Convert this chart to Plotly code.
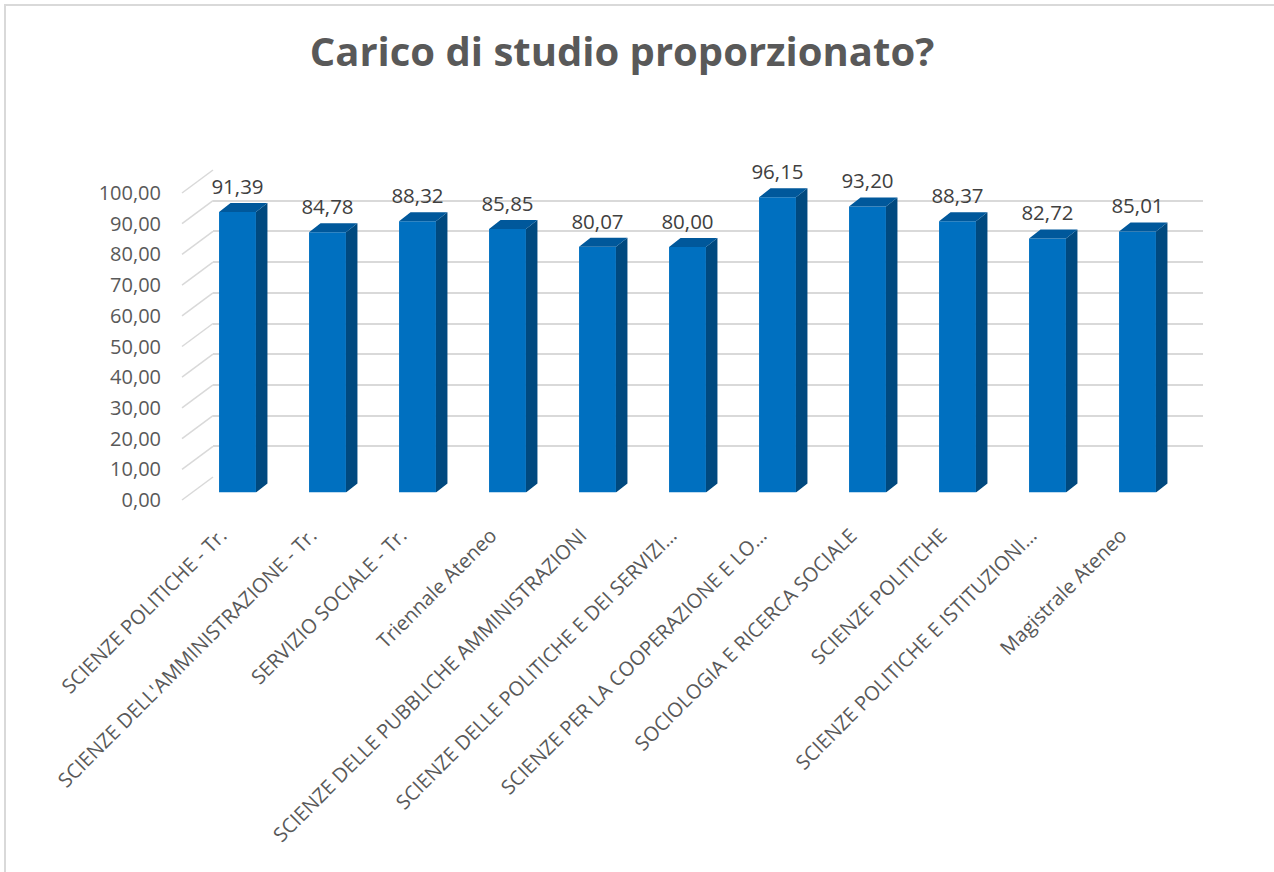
import plotly.graph_objects as go

# Data
categories = [
    "SCIENZE POLITICHE - Tr.",
    "SCIENZE DELL'AMMINISTRAZIONE - Tr.",
    "SERVIZIO SOCIALE - Tr.",
    "Triennale Ateneo",
    "SCIENZE DELLE PUBBLICHE AMMINISTRAZIONI",
    "SCIENZE DELLE POLITICHE E DEI SERVIZI…",
    "SCIENZE PER LA COOPERAZIONE E LO…",
    "SOCIOLOGIA E RICERCA SOCIALE",
    "SCIENZE POLITICHE",
    "SCIENZE POLITICHE E ISTITUZIONI…",
    "Magistrale Ateneo",
]
values = [91.39, 84.78, 88.32, 85.85, 80.07, 80.00, 96.15, 93.20, 88.37, 82.72, 85.01]
y_ticks = [0, 10, 20, 30, 40, 50, 60, 70, 80, 90, 100]

# Geometry of the fake 3D box (pixels)
W, H = 1274, 872
SCALE = 3.07          # px per unit
SPAN = 100 * SCALE
PITCH = 990 / len(categories)


def fx(p):
    return p / W


def fy(p):
    return 1 - p / H


back_left, back_zero = 213, 477
front_left, front_zero = 182, 500
bar_left, bar_zero = 192.5, 492.5

bar_w = 0.41
dx = 11.5 / PITCH     # depth offset in category units
dy = 9 / SCALE        # depth offset in value units
lab_gap = 4 / SCALE   # extra room above the bar top for the value label
bar_top = 115         # headroom on the bar axis so labels stay inside

idx = list(range(len(categories)))

# side and top faces built from the values
side_x, side_y, top_x, top_y = [], [], [], []
for i, v in zip(idx, values):
    r = i + bar_w / 2
    l = i - bar_w / 2
    side_x += [r, r + dx, r + dx, r, r, None]
    side_y += [0, dy, v + dy, v, 0, None]
    top_x += [l, l + dx, r + dx, r, l, None]
    top_y += [v, v + dy, v + dy, v, v, None]

traces = [
    # dummy traces so the wall / label axes get drawn
    go.Scatter(x=[None], y=[None], xaxis="x", yaxis="y", showlegend=False,
               hoverinfo="skip"),
    go.Scatter(x=[None], y=[None], xaxis="x2", yaxis="y2", showlegend=False,
               hoverinfo="skip"),
    go.Bar(x=idx, y=values, width=bar_w, xaxis="x3", yaxis="y3",
           marker=dict(color="#0070C0", line=dict(width=0)),
           showlegend=False),
    go.Scatter(x=side_x, y=side_y, xaxis="x3", yaxis="y3", mode="lines",
               fill="toself", fillcolor="#00497F", line=dict(width=0),
               showlegend=False, hoverinfo="skip"),
    go.Scatter(x=top_x, y=top_y, xaxis="x3", yaxis="y3", mode="lines",
               fill="toself", fillcolor="#00589B", line=dict(width=0),
               showlegend=False, hoverinfo="skip"),
    go.Scatter(x=idx, y=[v + dy + lab_gap for v in values], xaxis="x3", yaxis="y3",
               mode="text", text=[f"{v:.2f}".replace(".", ",") for v in values],
               textposition="top center", cliponaxis=False,
               textfont=dict(family="Open Sans", size=20.5, color="#404040"),
               showlegend=False, hoverinfo="skip"),
]

# chart border + diagonal lines on the left side wall
shapes = [dict(type="rect", xref="paper", yref="paper",
               x0=fx(5), x1=1.02, y0=-0.02, y1=fy(5),
               line=dict(color="#D9D9D9", width=2), fillcolor="rgba(0,0,0,0)",
               layer="below")]
for t in y_ticks:
    shapes.append(dict(type="line", xref="paper", yref="paper",
                       x0=fx(front_left), y0=fy(front_zero - t * SCALE),
                       x1=fx(back_left), y1=fy(back_zero - t * SCALE),
                       line=dict(color="#D9D9D9", width=1.5), layer="below"))

hidden = dict(visible=False, automargin=False)

layout = go.Layout(
    template="none",
    width=W, height=H,
    margin=dict(l=0, r=0, t=0, b=0, pad=0),
    paper_bgcolor="white",
    plot_bgcolor="rgba(0,0,0,0)",
    separators=",.",
    title=dict(text="<b>Carico di studio proporzionato?</b>",
               x=fx(622), y=fy(52), xanchor="center", yanchor="middle",
               automargin=False,
               font=dict(family="Open Sans", size=40, color="#595959")),
    # back wall with gridlines
    xaxis=dict(domain=[fx(back_left), fx(back_left + 990)], range=[-0.5, 10.5],
               showgrid=False, showticklabels=False, zeroline=False,
               showline=False, ticks="", automargin=False, anchor="y"),
    yaxis=dict(domain=[fy(back_zero), fy(back_zero - SPAN)], range=[0, 100],
               tickvals=y_ticks, showgrid=True, gridcolor="#D9D9D9",
               gridwidth=1.5, showticklabels=False, zeroline=False,
               showline=False, ticks="", automargin=False, anchor="x"),
    # front edge: tick labels
    xaxis2=dict(domain=[fx(front_left - 6), fx(front_left - 6 + 990)],
                range=[-0.5, 10.5],
                tickvals=idx, ticktext=categories, tickangle=-45,
                ticklabelstandoff=19,
                showgrid=False, zeroline=False, showline=False, ticks="",
                tickfont=dict(family="Open Sans", size=20, color="#595959"),
                automargin=False, anchor="y2"),
    yaxis2=dict(domain=[fy(front_zero), fy(front_zero - SPAN)], range=[0, 100],
                tickvals=y_ticks, tickformat=".2f", showgrid=False,
                zeroline=False, showline=False, ticks="", ticklabelstandoff=21,
                tickfont=dict(family="Open Sans", size=20, color="#595959"),
                automargin=False, anchor="free", position=fx(front_left)),
    # bars
    xaxis3=dict(domain=[fx(bar_left), fx(bar_left + 990)], range=[-0.5, 10.5],
                anchor="y3", **hidden),
    yaxis3=dict(domain=[fy(bar_zero), fy(bar_zero - bar_top * SCALE)],
                range=[0, bar_top], anchor="x3", **hidden),
    shapes=shapes,
)

fig = go.Figure(data=traces, layout=layout)
fig.write_html("out.html", config={"displayModeBar": False},
               post_script="document.body.style.margin = '0';")
